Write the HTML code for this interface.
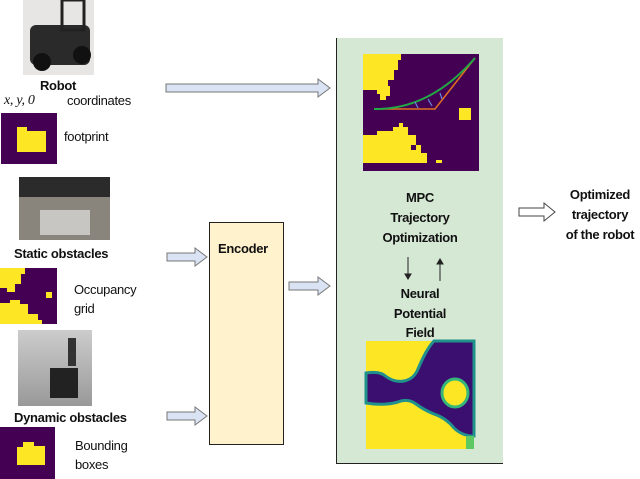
<!DOCTYPE html>
<html><head><meta charset="utf-8"><style>
body{margin:0;width:640px;height:479px;background:#fff;position:relative;overflow:hidden;font-family:"Liberation Sans",sans-serif;}
.t{position:absolute;font-size:13px;color:#111;white-space:nowrap;line-height:1;letter-spacing:-0.3px}
.b{font-weight:bold}
.c{text-align:center}
</style></head><body>
<svg width="640" height="479" style="position:absolute;left:0;top:0">
<defs>
<linearGradient id="ph" x1="0" y1="0" x2="0" y2="1"><stop offset="0" stop-color="#ccc"/><stop offset="1" stop-color="#999"/></linearGradient>
</defs>
<rect x="23" y="0" width="71" height="75" fill="#e8e6e4"/>
<rect x="30" y="25" width="60" height="40" rx="6" fill="#2a2a2a"/>
<rect x="62" y="0" width="22" height="30" fill="none" stroke="#222" stroke-width="3"/>
<circle cx="42" cy="62" r="9" fill="#111"/><circle cx="82" cy="55" r="9" fill="#111"/>
<rect x="1" y="113" width="56" height="51" fill="#440154"/>
<path d="M17 127h10v4h19v21h-29z" fill="#fde725"/>
<rect x="19" y="177" width="91" height="63" fill="#8a857c"/>
<rect x="19" y="177" width="91" height="20" fill="#2b2b2b"/>
<rect x="40" y="210" width="50" height="25" fill="#c8c6c2"/>
<rect x="0" y="268" width="57" height="56" fill="#440154"/>
<path d="M0 268h25v6h-4v10h-6v8h-8v-4h-7z" fill="#fde725"/>
<path d="M0 303h10v-3h10v4h8v10h10v6h4v4h-42z" fill="#fde725"/>
<rect x="46" y="292" width="6" height="6" fill="#fde725"/>
<rect x="18" y="330" width="74" height="76" fill="url(#ph)"/>
<rect x="50" y="368" width="28" height="30" fill="#222"/>
<rect x="68" y="338" width="8" height="28" fill="#333"/>
<rect x="0" y="427" width="55" height="52" fill="#440154"/>
<path d="M23 442h11v4h11v19h-28v-18h6z" fill="#fde725"/>
<g fill="#dae3f3" stroke="#777" stroke-width="1">
<path d="M166 84h152v-5l12 9-12 9v-5h-152z"/>
<path d="M167 253h28v-5l12 9-12 9v-5h-28z"/>
<path d="M167 412h28v-5l12 9-12 9v-5h-28z"/>
<path d="M289 282h29v-5l12 9-12 9v-5h-29z"/>
</g>
<rect x="209.5" y="222.5" width="74" height="222" fill="#fff2cc" stroke="#222"/>
<rect x="336" y="38" width="167" height="425" fill="#d5e8d4"/>
<line x1="336.5" y1="38" x2="336.5" y2="463" stroke="#222"/>
<line x1="336" y1="463.5" x2="503" y2="463.5" stroke="#222"/>
<rect x="363" y="54" width="116" height="117" fill="#440154"/>
<path d="M363 54h38v6h-3v10h-4v10h-6v6h2v10h-4v4h-6v-6h-3v-4h-14z" fill="#fde725"/>
<path d="M363 135h14v-4h16v-4h6v-4h4v4h5v8h8v10h5v8h6v10h9v-3h6v3h-79z" fill="#fde725"/>
<rect x="459" y="108" width="12" height="12" fill="#fde725"/>
<rect x="411" y="145" width="5" height="5" fill="#440154"/>
<path d="M374 109 L435 109 L475 58" fill="none" stroke="#e07020" stroke-width="1.5"/>
<path d="M374 109 Q430 110 475 58" fill="none" stroke="#22aa44" stroke-width="2"/>
<g stroke="#6688dd" stroke-width="1.2"><line x1="418" y1="108" x2="415" y2="102"/><line x1="432" y1="106" x2="428" y2="99"/><line x1="442" y1="99" x2="440" y2="93"/></g>
<g stroke="#222" stroke-width="1" fill="#222">
<line x1="408" y1="257" x2="408" y2="276"/><path d="M405 274l3 5 3-5z"/>
<line x1="440" y1="262" x2="440" y2="281"/><path d="M437 264l3-5 3 5z"/>
</g>
<rect x="366" y="341" width="108" height="108" fill="#fde725"/>
<path d="M454 341h20v95q-12 0-20-8q-8-10-20-14q-10-4-18-10q-8-6-18-2q-14 4-32 1v-30q12-2 18 2q10 8 20 6q10-2 14-12q6-14 10-20q3-5 6-8z" fill="#3b0f70" stroke="#21918c" stroke-width="3"/>
<ellipse cx="455" cy="393" rx="13" ry="14" fill="#fde725" stroke="#35b779" stroke-width="3"/>
<rect x="466" y="436" width="8" height="13" fill="#5ec962"/>
<path d="M519 208h25v-5l11 9-11 9v-5h-25z" fill="#fff" stroke="#444"/>
</svg>
<div class="t b c" style="left:28px;top:79px;width:60px">Robot</div>
<div class="t" style="left:4px;top:94px;font-family:'Liberation Serif',serif;font-style:italic;font-size:14px">x, y, 0</div>
<div class="t" style="left:67px;top:94px">coordinates</div>
<div class="t" style="left:64px;top:130px">footprint</div>
<div class="t b" style="left:14px;top:247px">Static obstacles</div>
<div class="t" style="left:74px;top:280px;line-height:19px">Occupancy<br>grid</div>
<div class="t b" style="left:14px;top:411px">Dynamic obstacles</div>
<div class="t" style="left:75px;top:436px;line-height:19px">Bounding<br>boxes</div>
<div class="t b" style="left:218px;top:242px">Encoder</div>
<div class="t b c" style="left:360px;top:188px;width:120px;line-height:20px">MPC<br>Trajectory<br>Optimization</div>
<div class="t b c" style="left:360px;top:284px;width:120px;line-height:19.5px">Neural<br>Potential<br>Field</div>
<div class="t b c" style="left:555px;top:185px;width:90px;line-height:20px">Optimized<br>trajectory<br>of the robot</div>
</body></html>
